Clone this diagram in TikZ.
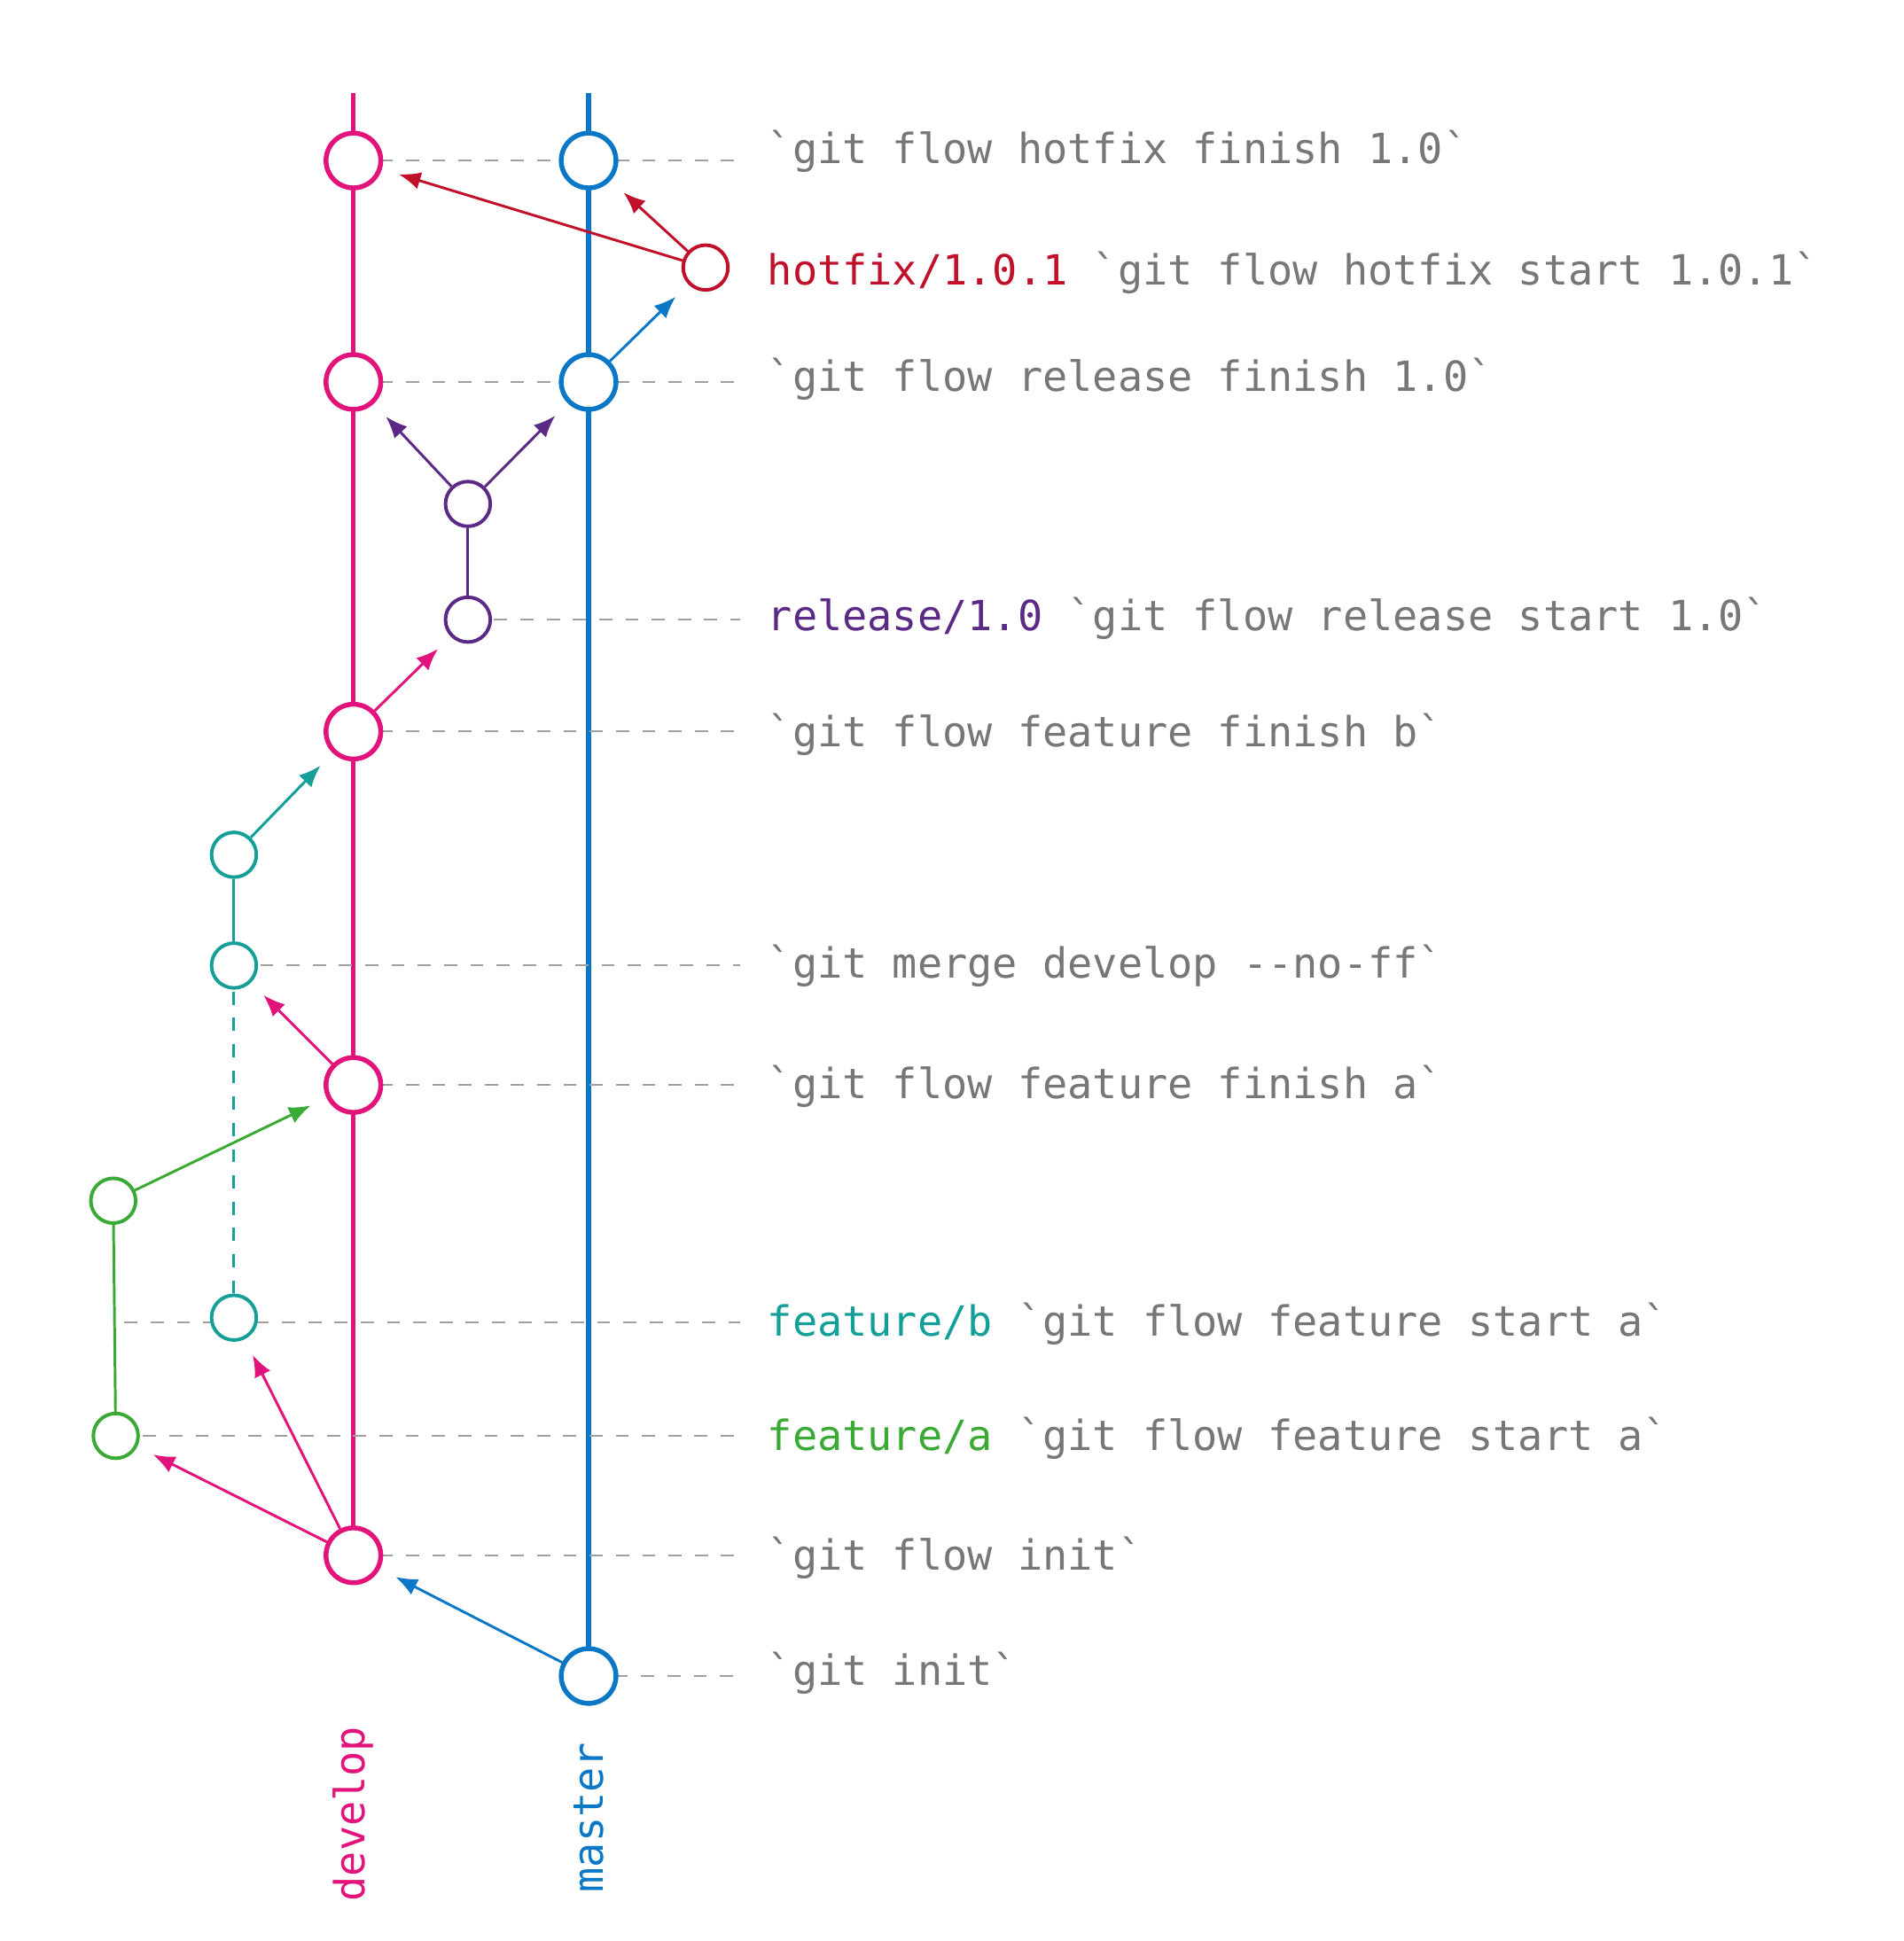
\documentclass[tikz,border=0pt]{standalone}
\usepackage{fontspec}
\setmonofont{DejaVu Sans Mono}
\usetikzlibrary{arrows.meta}
\definecolor{dev}{HTML}{E2137A}
\definecolor{mas}{HTML}{0A78C6}
\definecolor{hot}{HTML}{C0102A}
\definecolor{rel}{HTML}{5B2A86}
\definecolor{fb}{HTML}{14A098}
\definecolor{fa}{HTML}{3AAA35}
\definecolor{txt}{HTML}{777777}
\begin{document}
\begin{tikzpicture}[x=0.01cm,y=-0.01cm,
  big/.style={circle,draw,line width=1.1pt,minimum size=0.44cm,inner sep=0pt,fill=white},
  small/.style={circle,draw,line width=0.8pt,minimum size=0.36cm,inner sep=0pt,fill=white},
  arr/.style={-{Latex[length=5pt,width=4pt]},line width=0.6pt,shorten >=4pt},
  guide/.style={dashed,txt!70,line width=0.4pt},
  lbl/.style={anchor=west,font=\ttfamily\fontsize{9.5}{12}\selectfont,text=txt,inner sep=0pt}]
\useasboundingbox (0,0) rectangle (1530,1560);
% branch lines
\draw[dev,line width=1.1pt] (284,75) -- (284,1250);
\draw[mas,line width=1.1pt] (473,75) -- (473,1347);
% coordinates for guide ends
\foreach \n/\y in {r1/129,r2/215,r3/307,r4/498,r5/588,r6/776,r7/872,r8/1063,r9/1154,r10/1250,r11/1347}
  \coordinate (\n) at (595,\y);
\coordinate (s8) at (100,1063);
\coordinate (s9) at (115,1154);
% guides
\draw[guide] (284,129) -- (r1);
\draw[guide] (284,307) -- (r3);
\draw[guide] (376,498) -- (r4);
\draw[guide] (284,588) -- (r5);
\draw[guide] (188,776) -- (r6);
\draw[guide] (284,872) -- (r7);
\draw[guide] (s8) -- (r8);
\draw[guide] (s9) -- (r9);
\draw[guide] (284,1250) -- (r10);
\draw[guide] (473,1347) -- (r11);
% nodes
\node[big,draw=dev] (d1) at (284,129) {};
\node[big,draw=dev] (d2) at (284,307) {};
\node[big,draw=dev] (d3) at (284,588) {};
\node[big,draw=dev] (d4) at (284,872) {};
\node[big,draw=dev] (d5) at (284,1250) {};
\node[big,draw=mas] (m1) at (473,129) {};
\node[big,draw=mas] (m2) at (473,307) {};
\node[big,draw=mas] (m3) at (473,1347) {};
\node[small,draw=hot] (h1) at (567,215) {};
\node[small,draw=rel] (rl2) at (376,405) {};
\node[small,draw=rel] (rl1) at (376,498) {};
\node[small,draw=fb] (b3) at (188,687) {};
\node[small,draw=fb] (b2) at (188,776) {};
\node[small,draw=fb] (b1) at (188,1059) {};
\node[small,draw=fa] (a2) at (91,965) {};
\node[small,draw=fa] (a1) at (93,1154) {};
% branch segments
\draw[fb,line width=0.6pt] (b2) -- (b3);
\draw[fb,line width=0.6pt,dashed] (b1) -- (b2);
\draw[rel,line width=0.6pt] (rl1) -- (rl2);
\draw[fa,line width=0.6pt] (a1) -- (a2);
% arrows
\draw[arr,mas] (m3) -- (d5);
\draw[arr,dev] (d5) -- (a1);
\draw[arr,dev] (d5) -- (b1);
\draw[arr,fa] (a2) -- (d4);
\draw[arr,dev] (d4) -- (b2);
\draw[arr,fb] (b3) -- (d3);
\draw[arr,dev] (d3) -- (rl1);
\draw[arr,rel] (rl2) -- (d2);
\draw[arr,rel] (rl2) -- (m2);
\draw[arr,mas] (m2) -- (h1);
\draw[arr,hot] (h1) -- (m1);
\draw[arr,hot] (h1) -- (d1);
% labels
\node[lbl] (t1) at (616,122) {`git flow hotfix finish 1.0`};
\node[lbl] (t2) at (616,219) {\textcolor{hot}{hotfix/1.0.1} `git flow hotfix start 1.0.1`};
\node[lbl] (t3) at (616,305) {`git flow release finish 1.0`};
\node[lbl] (t4) at (616,497) {\textcolor{rel}{release/1.0} `git flow release start 1.0`};
\node[lbl] (t5) at (616,590) {`git flow feature finish b`};
\node[lbl] (t6) at (616,776) {`git merge develop --no-ff`};
\node[lbl] (t7) at (616,873) {`git flow feature finish a`};
\node[lbl] (t8) at (616,1064) {\textcolor{fb}{feature/b} `git flow feature start a`};
\node[lbl] (t9) at (616,1156) {\textcolor{fa}{feature/a} `git flow feature start a`};
\node[lbl] (t10) at (616,1252) {`git flow init`};
\node[lbl] (t11) at (616,1345) {`git init`};
\node[rotate=90,anchor=east,font=\ttfamily\fontsize{9.5}{12}\selectfont,text=dev] (ld) at (284,1375) {develop};
\node[rotate=90,anchor=east,font=\ttfamily\fontsize{9.5}{12}\selectfont,text=mas] (lm) at (473,1388) {master};
\end{tikzpicture}
\end{document}
